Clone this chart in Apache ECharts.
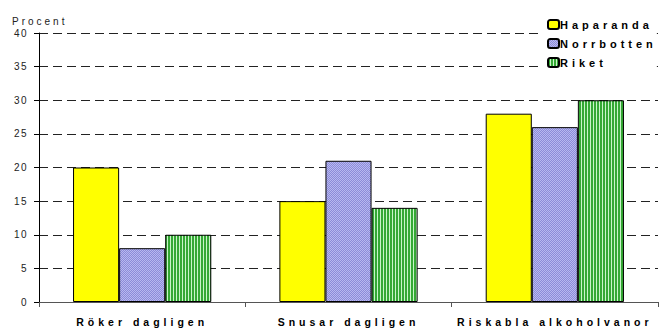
<!DOCTYPE html>
<html>
<head>
<meta charset="utf-8">
<script src="https://cdn.jsdelivr.net/npm/echarts@6/dist/echarts.min.js"></script>
<style>
html,body{margin:0;padding:0;background:#fff;}
#c{width:660px;height:331px;}
#c text{letter-spacing:1.5px;}
#c text[style*="bold"]{letter-spacing:4px;}
#c text[style*="11px"]{letter-spacing:4px;}
#c text[style*="Liberation"]{letter-spacing:3px;}
</style>
</head>
<body>
<div id="c"></div>
<script>
var categories = ['Röker dagligen', 'Snusar dagligen', 'Riskabla alkoholvanor'];
var seriesNames = ['Haparanda', 'Norrbotten', 'Riket'];
var haparanda = [20, 15, 28];
var norrbotten = [8, 21, 26];
var riket = [10, 14, 30];
var yTicks = {min: 0, max: 40, interval: 5};

function makePattern(w, h, draw) {
  var c = document.createElement('canvas');
  c.width = w; c.height = h;
  var ctx = c.getContext('2d');
  draw(ctx);
  return {image: c.toDataURL(), repeat: 'repeat'};
}
var bluePat = makePattern(2, 2, function (ctx) {
  ctx.fillStyle = '#8c8cd8'; ctx.fillRect(0, 0, 2, 2);
  ctx.fillStyle = '#b8b8f0'; ctx.fillRect(0, 0, 1, 1); ctx.fillRect(1, 1, 1, 1);
});
var greenPat = makePattern(3, 3, function (ctx) {
  ctx.fillStyle = '#34a834'; ctx.fillRect(0, 0, 3, 3);
  ctx.fillStyle = '#c8f4c8'; ctx.fillRect(2, 0, 1, 3);
});

var chart = echarts.init(document.getElementById('c'), null, {renderer: 'svg'});
var font = 'Arial, sans-serif';
function bar(name, data, color) {
  return {
    name: name, type: 'bar', data: data, barGap: '0%', barCategoryGap: '33%',
    itemStyle: {color: color, borderColor: '#000', borderWidth: 1},
    emphasis: {disabled: true}
  };
}
chart.setOption({
  animation: false,
  title: {
    text: 'Procent', left: 7, top: 11,
    textStyle: {fontSize: 10, fontWeight: 'normal', color: '#222', fontFamily: 'Liberation Sans'}
  },
  legend: {
    orient: 'vertical', left: 543, top: 16,
    itemWidth: 11, itemHeight: 9, itemGap: 8,
    backgroundColor: '#fff', padding: [3, 40, 3, 4],
    textStyle: {fontSize: 11, fontWeight: 'bold', color: '#000', fontFamily: font, padding: [0, 0, 0, -4]},
    data: seriesNames
  },
  grid: {left: 39, right: 2, top: 33, bottom: 29, containLabel: false},
  xAxis: {
    type: 'category', data: categories,
    axisLine: {lineStyle: {color: '#555', width: 1}},
    axisTick: {show: true, length: 5, lineStyle: {color: '#555'}},
    axisLabel: {margin: 14, fontSize: 10.5, fontWeight: 'bold', color: '#000', fontFamily: font}
  },
  yAxis: {
    type: 'value', min: yTicks.min, max: yTicks.max, interval: yTicks.interval,
    axisLine: {show: true, lineStyle: {color: '#000', width: 1}},
    axisTick: {show: true, length: 5, lineStyle: {color: '#000'}},
    axisLabel: {margin: 11, fontSize: 10, color: '#222', fontFamily: font},
    splitLine: {show: true, lineStyle: {color: '#222', type: [9, 5], width: 1}}
  },
  series: [
    bar(seriesNames[0], haparanda, '#ffff00'),
    bar(seriesNames[1], norrbotten, bluePat),
    bar(seriesNames[2], riket, greenPat)
  ]
});
</script>
</body>
</html>
